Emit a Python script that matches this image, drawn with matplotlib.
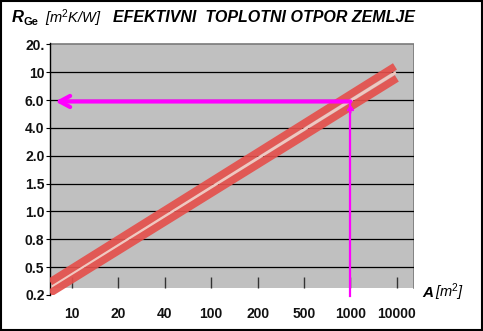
import matplotlib
matplotlib.use("Agg")
import matplotlib.pyplot as plt
from matplotlib.patches import Rectangle
import numpy as np

plt.rcParams["font.family"] = ["Liberation Sans", "DejaVu Sans"]
plt.rcParams["mathtext.fontset"] = "custom"
plt.rcParams["mathtext.rm"] = "Liberation Sans"
plt.rcParams["mathtext.it"] = "Liberation Sans:italic"
plt.rcParams["mathtext.bf"] = "Liberation Sans:bold"

# -----------------------------
# Data (category scales)
# -----------------------------
y_levels = ["0.2", "0.5", "0.8", "1.0", "1.5", "2.0", "4.0", "6.0", "10", "20."]
x_cats = ["10", "20", "40", "100", "200", "500", "1000", "10000"]

# the two red band lines, in category-index units (x index, y level index)
band_upper_x = [-0.47, 6.96]
band_upper_y = [0.47, 8.21]
band_lower_x = [-0.47, 7.00]
band_lower_y = [0.07, 7.78]

# reading example: A = 1000 m2 -> R ~ 6.0
read_x = 6      # "1000"
read_y = 6.95   # ~ "6.0"

# -----------------------------
# Figure
# -----------------------------
fig = plt.figure(figsize=(4.83, 3.31), dpi=100)
ax = fig.add_axes([50/483, 36/331, 364/483, 252/331])
x_lo, x_hi = -0.474, 7.37
ax.set_xlim(x_lo, x_hi)
ax.set_ylim(0, 9.05)

# gray plot area
ax.add_patch(Rectangle((x_lo, 0.25), x_hi - x_lo, 9 - 0.25, facecolor="#c0c0c0",
                       edgecolor="none", zorder=0))
ax.plot([x_lo, x_hi, x_hi], [9, 9, 0.25], color="#7a7a7a", lw=1.2, zorder=1)

# horizontal grid
ax.hlines(np.arange(1, 9), x_lo, x_hi, color="black", lw=0.9, zorder=1)

# bottom tick marks inside the gray area
ax.vlines(np.arange(len(x_cats)), 0.25, 0.65, color="#333333", lw=1, zorder=1)

# red band
mid_x = np.mean([band_upper_x, band_lower_x], axis=0)
mid_y = np.mean([band_upper_y, band_lower_y], axis=0)
ax.plot(mid_x, mid_y, color="#f0c8c0", lw=2, solid_capstyle="butt", zorder=2)
for bx, by in [(band_upper_x, band_upper_y), (band_lower_x, band_lower_y)]:
    ax.plot(bx, by, color="#e4504c", lw=5.4, alpha=0.92, solid_capstyle="butt", zorder=3)

# magenta reading lines
mag = "#ff00ff"
ax.plot([read_x, read_x], [-0.05, read_y], color=mag, lw=1.6, zorder=4, clip_on=False)
ax.annotate("", xy=(read_x, read_y - 0.02), xytext=(read_x, read_y - 0.5),
            arrowprops=dict(arrowstyle="->,head_length=0.25,head_width=0.18", color=mag, lw=1.6),
            zorder=4)
ax.annotate("", xy=(-0.36, read_y), xytext=(read_x, read_y),
            arrowprops=dict(arrowstyle="->,head_length=0.75,head_width=0.4", color=mag, lw=3,
                            shrinkA=0, shrinkB=0),
            zorder=4)

# axes styling
for s in ["top", "right", "bottom"]:
    ax.spines[s].set_visible(False)
ax.spines["left"].set_color("black")
ax.spines["left"].set_linewidth(1)
ax.set_yticks(np.arange(len(y_levels)))
ax.set_yticklabels(y_levels, fontsize=10, fontweight="bold", color="#111111")
ax.tick_params(axis="y", length=3, width=0.8, pad=1)
ax.set_xticks(np.arange(len(x_cats)))
ax.set_xticklabels(x_cats, fontsize=10, fontweight="bold", color="#111111")
ax.tick_params(axis="x", length=0, pad=9)

# title
fig.text(12/483, 1 - 18/331, "R", fontsize=12, fontweight="bold", style="italic",
         va="center", ha="left")
fig.text(24/483, 1 - 22/331, "Ge", fontsize=8, fontweight="bold", va="center", ha="left")
fig.text(45/483, 1 - 18/331, r"[m$^2$K/W]", fontsize=10.5, style="italic", va="center", ha="left")
fig.text(113/483, 1 - 18/331, "EFEKTIVNI  TOPLOTNI OTPOR ZEMLJE", fontsize=11.5, fontweight="bold",
         style="italic", va="center", ha="left")

# x axis caption
fig.text(422/483, 1 - 293/331, "A", fontsize=11, fontweight="bold", style="italic", va="center", ha="left")
fig.text(435/483, 1 - 292/331, r"[m$^2$]", fontsize=10.5, style="italic", va="center", ha="left")

# outer frame
fig.patches.append(Rectangle((0.002, 0.003), 0.996, 0.994, transform=fig.transFigure,
                             fill=False, edgecolor="black", lw=1.5))

fig.savefig("out.png", dpi=100)
